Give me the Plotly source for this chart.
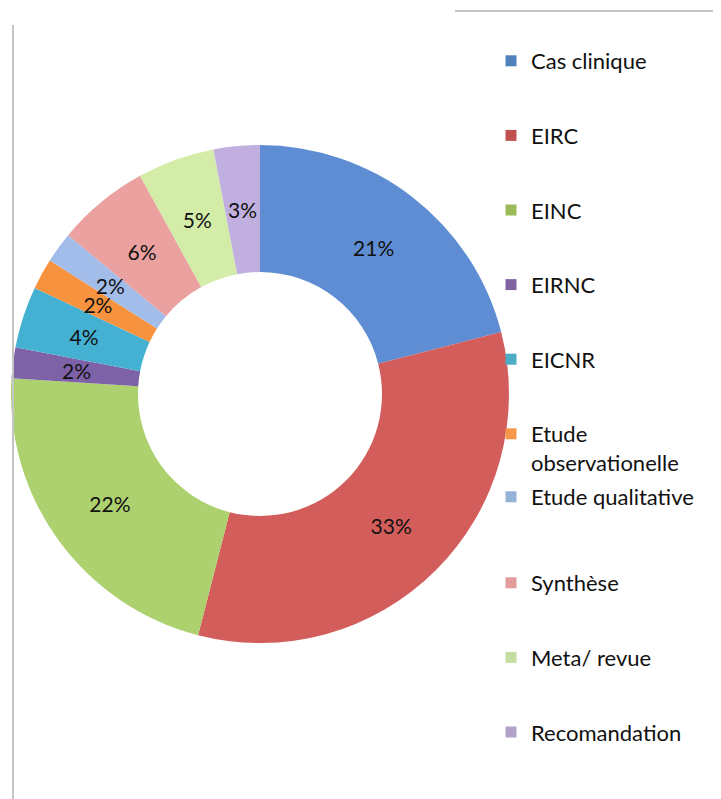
import plotly.graph_objects as go

categories = ["Cas clinique", "EIRC", "EINC", "EIRNC", "EICNR",
              "Etude<br>observationelle", "Etude qualitative", "Synthèse",
              "Meta/ revue", "Recomandation"]
shares = [21, 33, 22, 2, 4, 2, 2, 6, 5, 3]
slice_colors = ["#5F8DD3", "#D35D5B", "#ADD16F", "#7E62A8", "#45B1D2",
                "#F7923F", "#A3BDEA", "#EBA1A0", "#D3EDA8", "#C1B0DF"]
legend_colors = ["#4F81BD", "#C0504D", "#9BBB59", "#8064A2", "#4BACC6",
                 "#F79646", "#95B3D7", "#E39C9A", "#C3DEA0", "#B3A2C7"]
legend_ids = ["legend"] * 6 + ["legend2"] + ["legend3"] * 3

W, H = 721, 799
OFF = 8  # page body margin
FONT = "Lato, 'Open Sans', sans-serif"
PCT = "%{percent:.0%}"


def px(x):
    return (x - OFF) / W


def py(y):
    return 1 - (y - OFF) / H


CX, CY, R = 260, 394, 249
R_LBL = 185  # radius of the label ring for the thin slices

big = [v >= 10 for v in shares]

fig = go.Figure()
# visible donut (labels of the wide slices)
fig.add_trace(go.Pie(
    labels=categories, values=shares, hole=0.49, sort=False,
    direction="clockwise", rotation=0,
    marker=dict(colors=slice_colors, line=dict(width=0)),
    texttemplate=[PCT if b else "" for b in big], textposition="inside",
    insidetextorientation="horizontal",
    textfont=dict(family=FONT, size=21, color="#111111"),
    showlegend=False, hoverinfo="skip",
    domain=dict(x=[px(CX - R), px(CX + R)], y=[py(CY + R), py(CY - R)]),
))
# transparent thin ring carrying the labels of the thin slices at mid-ring
R2 = R_LBL + 11
fig.add_trace(go.Pie(
    labels=categories, values=shares, hole=(R_LBL - 11) / R2, sort=False,
    direction="clockwise", rotation=0,
    marker=dict(colors=["rgba(0,0,0,0)"] * len(shares), line=dict(width=0)),
    texttemplate=["" if b else PCT for b in big], textposition="inside",
    insidetextorientation="horizontal",
    textfont=dict(family=FONT, size=21, color="#111111"),
    showlegend=False, hoverinfo="skip",
    domain=dict(x=[px(CX - R2), px(CX + R2)], y=[py(CY + R2), py(CY - R2)]),
))

for i, (name, col, lg) in enumerate(zip(categories, legend_colors, legend_ids)):
    fig.add_trace(go.Scatter(
        x=[None], y=[None], mode="markers", name=name,
        legendgroup=f"g{i}", legend=lg,
        marker=dict(symbol="square", size=11, color=col),
    ))

leg_common = dict(
    x=px(491), xanchor="left", yanchor="top",
    tracegroupgap=43, valign="top",
    font=dict(family=FONT, size=22, color="#111111"),
    bgcolor="rgba(0,0,0,0)", itemclick=False, itemdoubleclick=False,
)

fig.update_layout(
    width=W, height=H,
    margin=dict(l=0, r=0, t=0, b=0),
    paper_bgcolor="white", plot_bgcolor="white",
    uniformtext=dict(minsize=21, mode="show"),
    xaxis=dict(visible=False), yaxis=dict(visible=False),
    legend=dict(y=py(40), **leg_common),
    legend2=dict(y=py(476), **leg_common),
    legend3=dict(y=py(562), **leg_common),
    shapes=[
        dict(type="line", xref="paper", yref="paper",
             x0=px(13), x1=px(13), y0=py(25), y1=0,
             line=dict(color="#C4C4C4", width=2)),
        dict(type="line", xref="paper", yref="paper",
             x0=px(455), x1=px(715), y0=py(11), y1=py(11),
             line=dict(color="#C4C4C4", width=2)),
        dict(type="line", xref="paper", yref="paper",
             x0=px(715), x1=px(715), y0=py(11), y1=0,
             line=dict(color="#C4C4C4", width=2)),
    ],
)

fig.write_html("out.html")
